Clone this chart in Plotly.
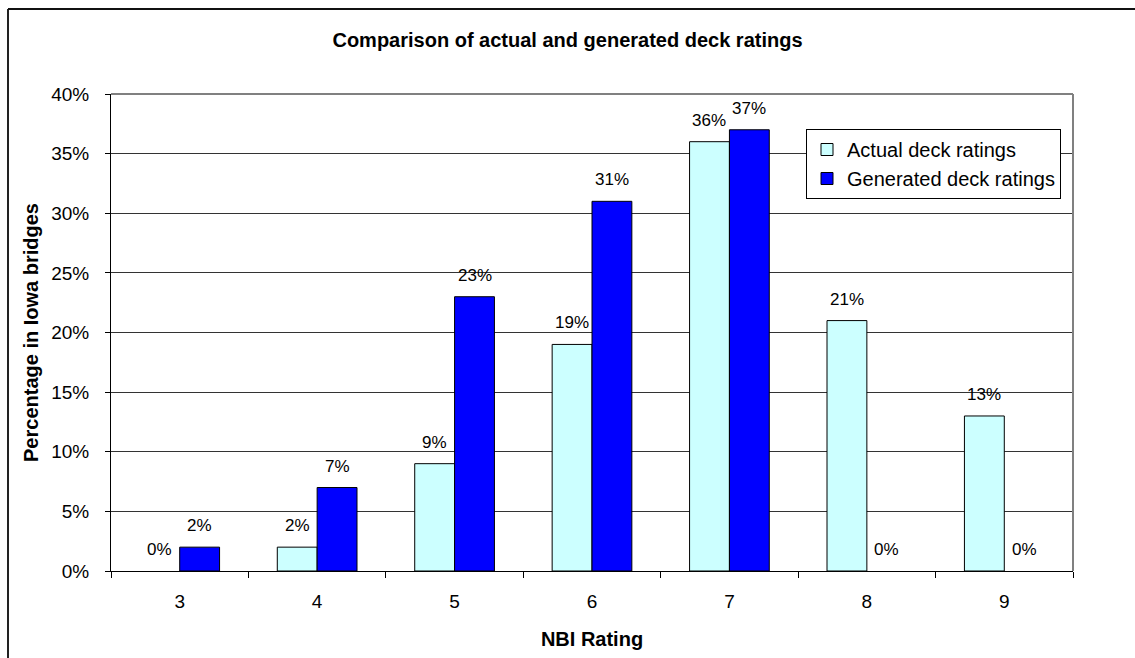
import plotly.graph_objects as go

categories = ["3", "4", "5", "6", "7", "8", "9"]
actual = [0, 2, 9, 19, 36, 21, 13]
generated = [2, 7, 23, 31, 37, 0, 0]
series_names = ["Actual deck ratings", "Generated deck ratings"]
y_ticks = [0, 5, 10, 15, 20, 25, 30, 35, 40]
y_tick_labels = ["0%", "5%", "10%", "15%", "20%", "25%", "30%", "35%", "40%"]

FONT = "Liberation Sans, Arial, sans-serif"

fig = go.Figure()
# zero-height bars are not drawn (no outline at the baseline), as in the original
fig.add_trace(go.Bar(x=categories, y=[v if v > 0 else None for v in actual], name=series_names[0],
                     marker=dict(color="#CCFFFF", line=dict(color="black", width=1)),
                     legendgroup="a"))
fig.add_trace(go.Bar(x=categories, y=[v if v > 0 else None for v in generated], name=series_names[1],
                     marker=dict(color="#0000FF", line=dict(color="black", width=1)),
                     legendgroup="g"))

annotations = []
for i, (a, g) in enumerate(zip(actual, generated)):
    for val, shift in ((a, -20), (g, 20)):
        annotations.append(dict(x=i, y=val, xref="x", yref="y", text=f"{val}%",
                                showarrow=False, xshift=shift, yanchor="bottom", yshift=10,
                                font=dict(family=FONT, size=17, color="black")))

fig.update_layout(
    width=1135, height=658,
    margin=dict(l=111, r=62, t=94, b=87),
    paper_bgcolor="white", plot_bgcolor="white",
    barmode="group", bargap=0.42, bargroupgap=0,
    font=dict(family=FONT, size=19, color="black"),
    title=dict(text="<b>Comparison of actual and generated deck ratings</b>",
               x=0.5, xanchor="center", y=1 - 40 / 658, yanchor="middle",
               font=dict(family=FONT, size=20, color="black")),
    legend=dict(x=(806 - 111) / 962, y=(571 - 129) / 477, xanchor="left", yanchor="top",
                bgcolor="white", bordercolor="black", borderwidth=1,
                font=dict(family=FONT, size=20), tracegroupgap=5,
                traceorder="normal"),
    annotations=annotations,
    shapes=[
        dict(type="line", xref="paper", yref="paper", x0=1, x1=1, y0=0, y1=1,
             line=dict(color="#808080", width=2)),
        dict(type="line", xref="paper", yref="paper", x0=0, x1=1, y0=1, y1=1,
             line=dict(color="#808080", width=2)),
        dict(type="line", xref="paper", yref="paper",
             x0=(8 - 111) / 962, x1=(8 - 111) / 962, y0=(571 - 9) / 477, y1=-0.3,
             line=dict(color="#222", width=2)),
        dict(type="line", xref="paper", yref="paper",
             x0=(8 - 111) / 962, x1=1.2, y0=(571 - 9) / 477, y1=(571 - 9) / 477,
             line=dict(color="#111", width=2)),
    ],
)

fig.update_xaxes(
    type="category", range=[-0.5, len(categories) - 0.5],
    showline=True, linecolor="black", linewidth=1,
    ticks="outside", tickson="boundaries", ticklen=6, tickcolor="black",
    showgrid=False, ticklabelstandoff=13,
    tickfont=dict(family=FONT, size=19),
    title=dict(text="<b>NBI Rating</b>", font=dict(family=FONT, size=20), standoff=21),
)
fig.update_yaxes(
    range=[0, 40], tickmode="array", tickvals=y_ticks, ticktext=y_tick_labels,
    showline=True, linecolor="black", linewidth=1,
    ticks="outside", ticklen=5, tickcolor="black",
    showgrid=True, gridcolor="#333", gridwidth=1, zeroline=False,
    ticklabelstandoff=12,
    tickfont=dict(family=FONT, size=19),
    title=dict(text="<b>Percentage in Iowa bridges</b>", font=dict(family=FONT, size=20), standoff=7),
)

fig.write_html("out.html")
